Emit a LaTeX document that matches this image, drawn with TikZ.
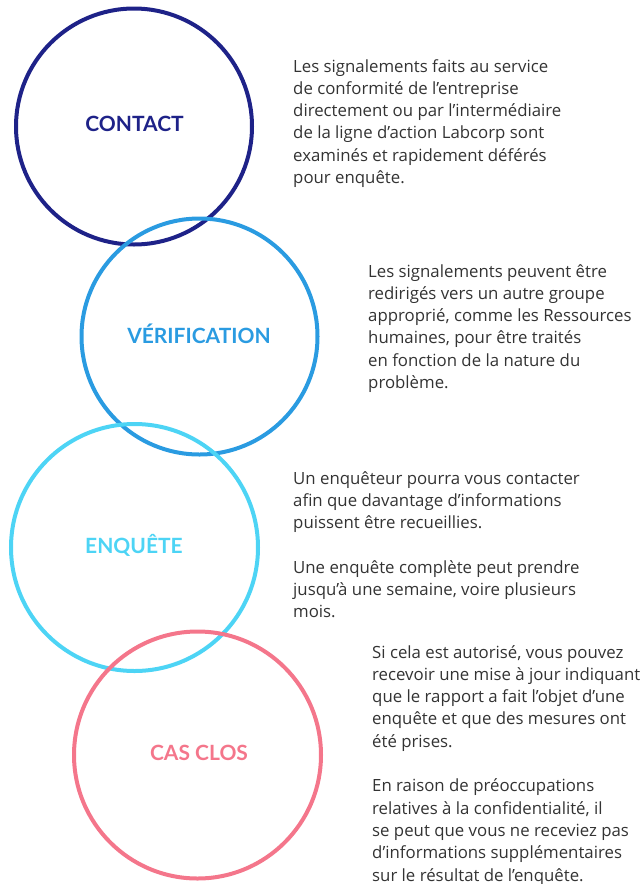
\documentclass[tikz,border=0pt]{standalone}
\usepackage{fontspec}
\setmainfont{Open Sans}
\newfontfamily\lblfont{Lato}
\definecolor{cnavy}{HTML}{1E2288}
\definecolor{cblue}{HTML}{2A9BE1}
\definecolor{ccyan}{HTML}{4DD4F5}
\definecolor{cpink}{HTML}{F4768B}
\definecolor{ctext}{HTML}{333333}
\begin{document}
\begin{tikzpicture}[x=1pt,y=-1pt,
  ring/.style={circle,line width=4pt,minimum size=236pt,inner sep=0pt},
  bigring/.style={circle,line width=4pt,minimum size=247pt,inner sep=0pt},
  lbl/.style={font=\lblfont\fontsize{21}{24}\selectfont\bfseries},
  body/.style={anchor=north west,inner sep=0pt,align=left,text=ctext,font=\fontsize{16.8}{22.3}\selectfont}]
\useasboundingbox (0,0) rectangle (641,884);
\node[ring,draw=cnavy] (c1) at (134,126.5) {};
\node[ring,draw=cblue] (c2) at (199.5,336.5) {};
\node[bigring,draw=ccyan] (c3) at (134.5,547.5) {};
\node[bigring,draw=cpink] (c4) at (197.5,755) {};
\node[lbl,text=cnavy] (l1) at (134.5,124) {CONTACT};
\node[lbl,text=cblue] (l2) at (199,334) {VÉRIFICATION};
\node[lbl,text=ccyan] (l3) at (134,545) {ENQUÊTE};
\node[lbl,text=cpink] (l4) at (199,753) {CAS CLOS};
\node[body] (t1) at (293,59) {Les signalements faits au service\\de conformité de l’entreprise\\directement ou par l’intermédiaire\\de la ligne d’action Labcorp sont\\examinés et rapidement déférés\\pour enquête.};
\node[body] (t2) at (368,264) {Les signalements peuvent être\\redirigés vers un autre groupe\\approprié, comme les Ressources\\humaines, pour être traités\\en fonction de la nature du\\problème.};
\node[body] (t3) at (293,471) {Un enquêteur pourra vous contacter\\afin que davantage d’informations\\puissent être recueillies.\\[22.3pt]Une enquête complète peut prendre\\jusqu’à une semaine, voire plusieurs\\mois.};
\node[body] (t4) at (372,645) {Si cela est autorisé, vous pouvez\\recevoir une mise à jour indiquant\\que le rapport a fait l’objet d’une\\enquête et que des mesures ont\\été prises.\\[22.3pt]En raison de préoccupations\\relatives à la confidentialité, il\\se peut que vous ne receviez pas\\d’informations supplémentaires\\sur le résultat de l’enquête.};
\end{tikzpicture}
\end{document}
